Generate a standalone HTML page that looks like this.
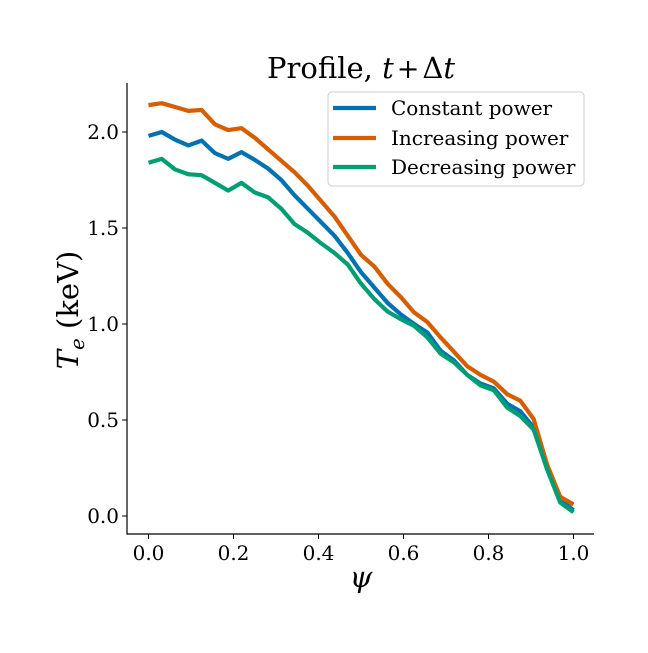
<!DOCTYPE html>
<html><head><meta charset="utf-8"><style>
body{margin:0;background:#fff}
svg text{font-family:"DejaVu Serif","Liberation Serif",serif;fill:#000}
</style></head><body>
<svg width="648" height="648" viewBox="0 0 648 648" xmlns="http://www.w3.org/2000/svg">
<g id="plot"></g>
<text x="361" y="78" font-size="29" text-anchor="middle">Profile, <tspan font-style="italic">t</tspan><tspan font-size="27" dx="3">+</tspan><tspan dx="3">Δ</tspan><tspan font-style="italic">t</tspan></text>
<text x="361" y="587" font-size="29" font-style="italic" text-anchor="middle">ψ</text>
<text transform="translate(78,310) rotate(-90)" font-size="29" text-anchor="middle"><tspan font-style="italic">T</tspan><tspan font-style="italic" font-size="20" dy="6">e</tspan><tspan dy="-6"> (keV)</tspan></text>
<g>
<rect x="328" y="92" width="256" height="94" rx="4" fill="#fff" fill-opacity="0.8" stroke="#ccc" stroke-width="1"/>
<line x1="333" y1="108" x2="376" y2="108" stroke="#0072b2" stroke-width="4.2"/>
<text x="391" y="115" font-size="20">Constant power</text>
<line x1="333" y1="138" x2="376" y2="138" stroke="#d55e00" stroke-width="4.2"/>
<text x="391" y="145" font-size="20">Increasing power</text>
<line x1="333" y1="167" x2="376" y2="167" stroke="#009e73" stroke-width="4.2"/>
<text x="391" y="174" font-size="20">Decreasing power</text>
</g>
</svg>
<script>
const psi=[];for(let i=0;i<=32;i++)psi.push(i/32);
const constantPower=[1.98,2.0,1.96,1.93,1.955,1.89,1.86,1.895,1.855,1.81,1.75,1.67,1.60,1.53,1.46,1.37,1.27,1.19,1.11,1.05,1.0,0.955,0.86,0.81,0.735,0.69,0.665,0.585,0.545,0.46,0.26,0.085,0.03];
const increasingPower=[2.14,2.15,2.13,2.11,2.115,2.04,2.01,2.02,1.97,1.91,1.85,1.79,1.72,1.64,1.56,1.46,1.36,1.30,1.21,1.14,1.06,1.01,0.93,0.855,0.78,0.735,0.70,0.635,0.60,0.505,0.27,0.10,0.06];
const decreasingPower=[1.84,1.86,1.805,1.78,1.775,1.735,1.695,1.735,1.685,1.66,1.60,1.52,1.475,1.42,1.37,1.31,1.21,1.13,1.065,1.025,0.99,0.93,0.845,0.80,0.735,0.68,0.655,0.565,0.52,0.45,0.245,0.07,0.02];
const xTicks=["0.0","0.2","0.4","0.6","0.8","1.0"];
const yTicks=["0.0","0.5","1.0","1.5","2.0"];
const NS="http://www.w3.org/2000/svg";
const X=v=>148.5+v*425, Y=v=>516-v*192;
const g=document.getElementById('plot');
function mk(t,a){const e=document.createElementNS(NS,t);for(const k in a)e.setAttribute(k,a[k]);g.appendChild(e);return e;}
const sl=mk('line',{x1:127,y1:83,x2:127,y2:534.5,stroke:'#000','stroke-width':1.2});


const sb=mk('line',{x1:126.5,y1:534,x2:594,y2:534,stroke:'#000','stroke-width':1.2});


xTicks.forEach(t=>{const x=X(parseFloat(t));
const l=mk('line',{x1:x,y1:534,x2:x,y2:539,stroke:'#000','stroke-width':1});


const tx=mk('text',{x:x,y:560,'font-size':20,'text-anchor':'middle'});tx.textContent=t;

});
yTicks.forEach(t=>{const y=Y(parseFloat(t));
const l=mk('line',{x1:122,y1:y,x2:127,y2:y,stroke:'#000','stroke-width':1});


const tx=mk('text',{x:119,y:y+7,'font-size':20,'text-anchor':'end'});tx.textContent=t;

});
[[constantPower,'#0072b2','line-constant-power'],[increasingPower,'#d55e00','line-increasing-power'],[decreasingPower,'#009e73','line-decreasing-power']].forEach(([d,c,n])=>{
const p=mk('polyline',{points:d.map((v,i)=>X(psi[i])+','+Y(v)).join(' '),fill:'none',stroke:c,'stroke-width':4.2,'stroke-linejoin':'round'});

});
</script>
</body></html>
